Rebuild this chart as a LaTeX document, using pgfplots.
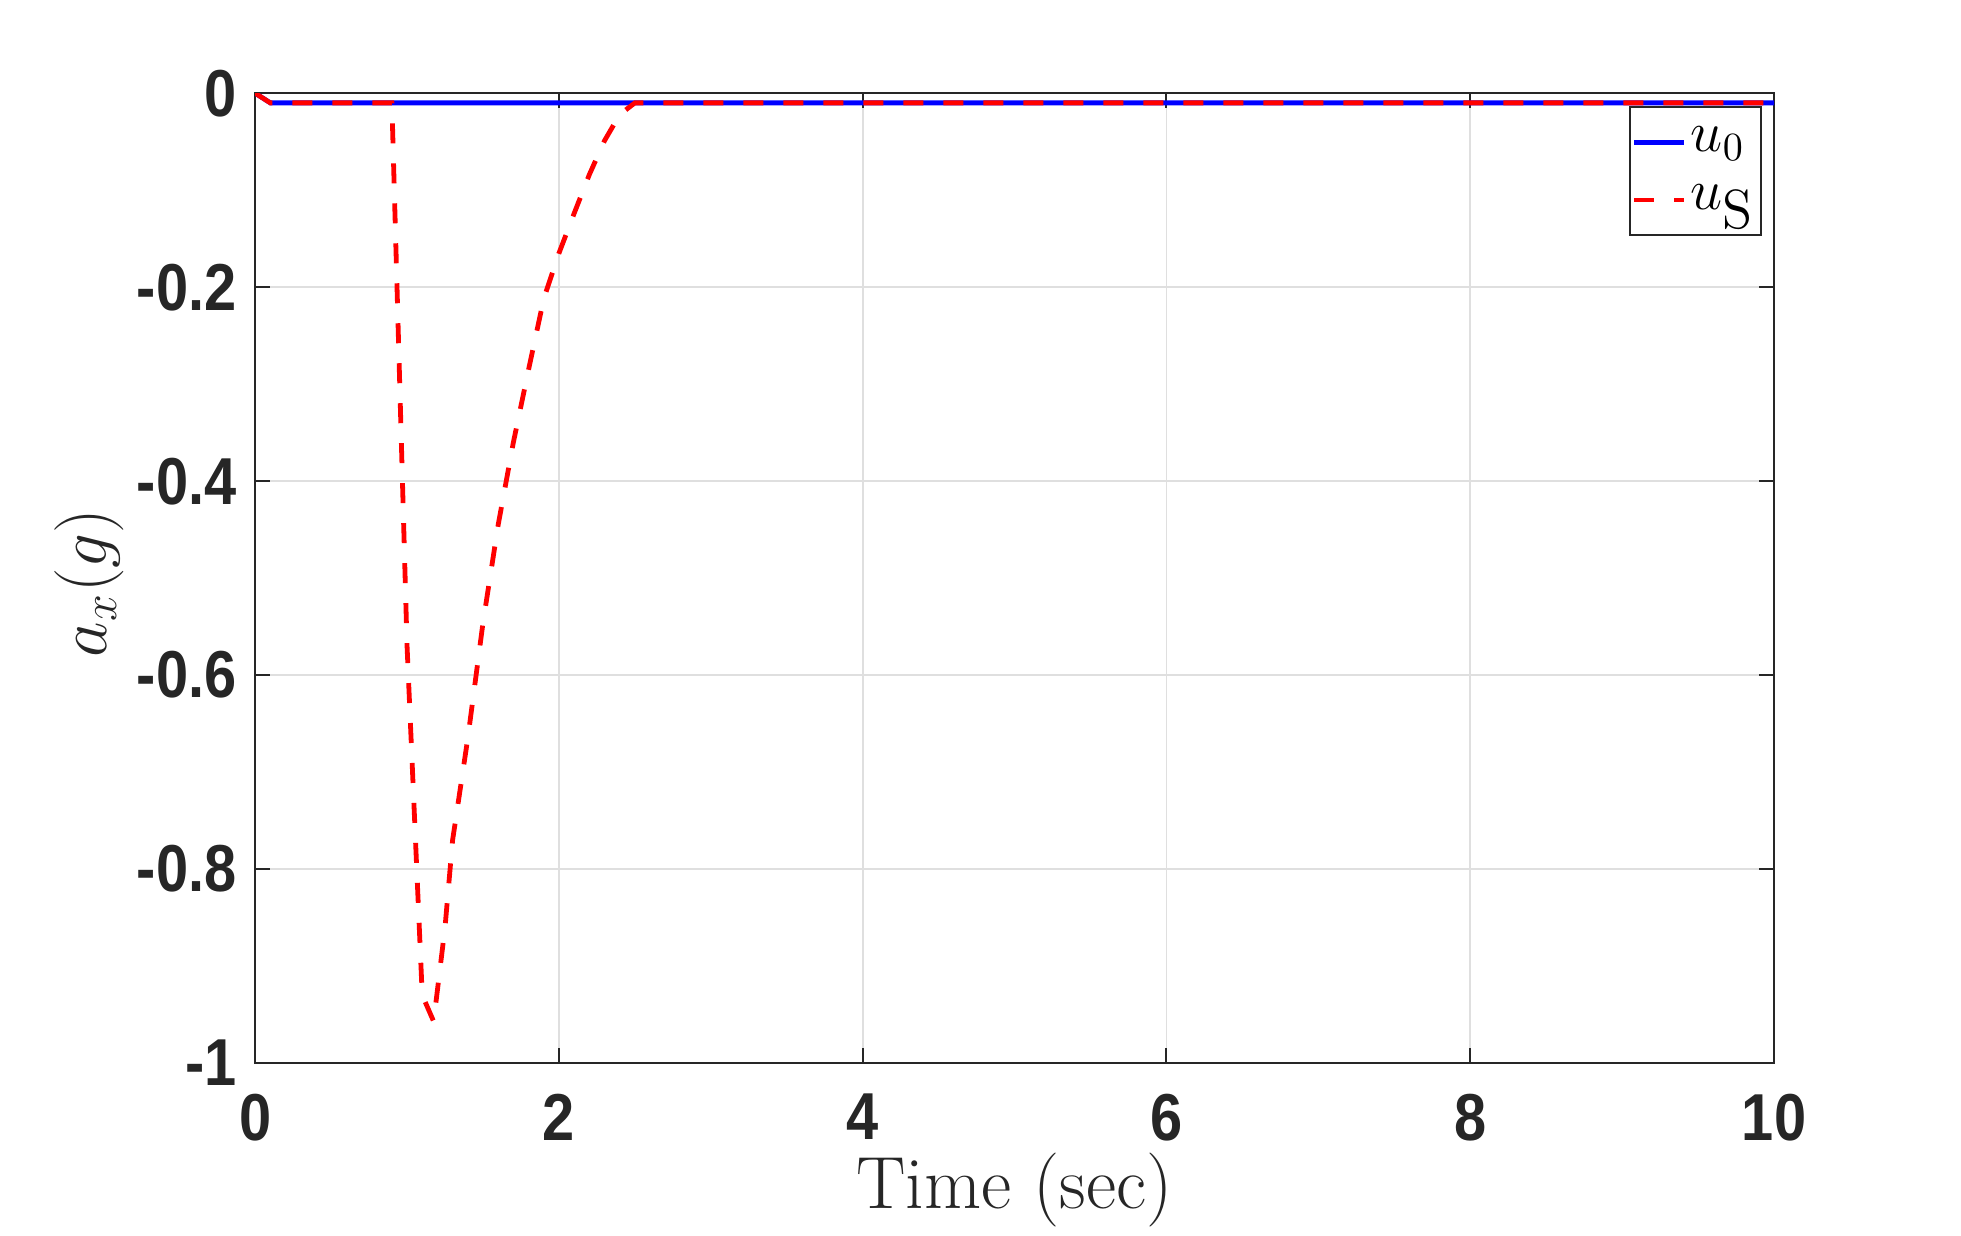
\documentclass[border=0pt]{standalone}
\usepackage{fontspec}
\usepackage{pgfplots}
\pgfplotsset{compat=1.18}
\newfontfamily\arialfont[FakeStretch=0.87]{Liberation Sans}
\definecolor{axgray}{RGB}{38,38,38}
\definecolor{gridgray}{RGB}{223,223,223}
\begin{document}
\begin{tikzpicture}
\useasboundingbox (-63.8pt,-43pt) rectangle (426.5pt,265.8pt);
\begin{axis}[
 at={(0,0)}, anchor=south west,
 scale only axis, width=379.75pt, height=242.5pt,
 xmin=0, xmax=10, ymin=-1, ymax=0,
 xtick={0,2,4,6,8,10}, xticklabels={0,2,4,6,8,10},
 ytick={-1,-0.8,-0.6,-0.4,-0.2,0}, yticklabels={-1,-0.8,-0.6,-0.4,-0.2,0},
 tick align=inside, major tick length=3.75pt,
 grid=major, grid style={gridgray, line width=0.4pt},
 axis line style={axgray, line width=0.5pt},
 tick style={axgray, line width=0.5pt},
 ticklabel style={font=\arialfont\bfseries\fontsize{16.6}{20}\selectfont, text=axgray},
 xticklabel style={anchor=north, inner sep=0pt, yshift=-7.5pt},
 yticklabel style={anchor=east, inner sep=0pt, xshift=-4.5pt},
 xlabel={Time (sec)}, ylabel={$a_x(g)$},
 label style={font=\fontsize{18.5}{22}\selectfont, text=axgray},
 xlabel style={at={(axis description cs:0.5,-0.131)}, anchor=center},
 ylabel style={at={(axis description cs:-0.1095,0.495)}, anchor=center},
 legend style={at={(rel axis cs:0.992,0.987)}, anchor=north east, draw=axgray, line width=0.5pt,
   font=\fontsize{13.8}{16}\selectfont, inner xsep=0.5pt, inner ysep=4pt, row sep=4.75pt,
   nodes={inner sep=1pt}},
 legend cell align=left,
 legend image code/.code={\draw[#1] (0pt,0pt) -- (12.5pt,0pt);},
]
\addplot[blue, line width=1.2pt] coordinates {(0,0) (0.1,-0.01) (10,-0.01)};
\addlegendentry{$u_0$}
\addplot[red, line width=1.2pt, dash pattern=on 5pt off 5pt] coordinates {
(0,0) (0.1,-0.01) (0.9,-0.01) (1.0,-0.57) (1.1,-0.93) (1.175,-0.957) (1.25,-0.86)
(1.3,-0.77) (1.4,-0.665) (1.5,-0.546) (1.6,-0.445) (1.7,-0.36) (1.8,-0.285)
(1.9,-0.212) (2.0,-0.165) (2.1,-0.124) (2.2,-0.084) (2.3,-0.049) (2.4,-0.022)
(2.5,-0.01) (10,-0.01)};
\addlegendentry{$u_{\textstyle\mathrm{S}}$}
\end{axis}
\end{tikzpicture}
\end{document}
